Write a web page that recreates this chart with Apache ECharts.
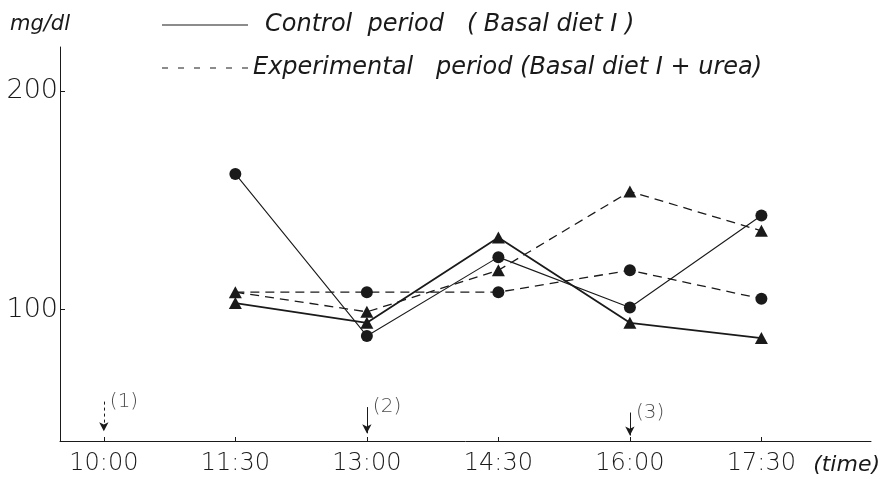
<!DOCTYPE html>
<html>
<head>
<meta charset="utf-8">
<script src="https://cdn.jsdelivr.net/npm/echarts@6/dist/echarts.min.js"></script>
<style>
html,body{margin:0;padding:0;background:#fff;}
#chart{width:888px;height:479px;}
</style>
</head>
<body>
<div id="chart"></div>
<script>
// ---- data ----
const timeLabels = ['10:00', '11:30', '13:00', '14:30', '16:00', '17:30'];
const timeHours = [10, 11.5, 13, 14.5, 16, 17.5];
const yTickValues = [100, 200];

const controlCircle   = [null, 162, 88, 124, 101, 143];
const controlTriangle = [null, 103, 94, 133, 94, 87];
const expCircle       = [null, 108, 108, 108, 118, 105];
const expTriangle     = [null, 108, 99, 118, 154, 136];

const legendNames = ['Control  period   ( Basal diet I )', 'Experimental   period (Basal diet I + urea)'];

const arrowTimes  = [10, 13, 16];
const arrowTop    = [58, 55.5, 53];
const arrowTip    = [44.5, 43.5, 42.5];
const arrowLabels = ['(1)', '(2)', '(3)'];
const arrowDashed = [true, false, false];

// ---- build ----
function pairs(arr) {
  const out = [];
  arr.forEach((v, i) => { if (v != null) out.push([timeHours[i], v]); });
  return out;
}
const plain = "'DejaVu Sans', sans-serif";
const ink = '#1a1a1a';
const solidIcon = 'path://M0,0H86V1H0Z';
const dashedIcon = 'path://M0,0H6V1H0Z M16,0H22V1H16Z M32,0H38V1H32Z M48,0H54V1H48Z M64,0H70V1H64Z M80,0H86V1H80Z';

const chart = echarts.init(document.getElementById('chart'));

const expCircleData = pairs(expCircle).map((p, i) =>
  i === 0 ? { value: p, symbol: 'none' } : p);

chart.setOption({
  backgroundColor: '#fff',
  animation: false,
  grid: { left: 60, right: 17, top: 47, bottom: 38 },
  legend: {
    orient: 'vertical',
    left: 157,
    top: 8,
    itemWidth: 86,
    itemHeight: 1,
    itemGap: 19,
    data: [
      { name: legendNames[0], icon: solidIcon, textStyle: { padding: [0, 0, 0, 12] } },
      { name: legendNames[1], icon: dashedIcon, textStyle: { padding: [0, 0, 0, 0] } }
    ],
    itemStyle: { color: ink },
    textStyle: {
      color: ink, fontSize: 24, fontStyle: 'italic',
      fontFamily: plain, fontWeight: 200
    }
  },
  xAxis: {
    type: 'value',
    min: 9.5,
    max: 18.75,
    splitLine: { show: false },
    axisLine: { lineStyle: { color: ink, width: 1 } },
    axisTick: { inside: true, length: 4, customValues: timeHours, lineStyle: { color: ink } },
    axisLabel: {
      customValues: timeHours,
      margin: 11,
      color: ink,
      fontSize: 24,
      fontFamily: plain,
      fontWeight: 200,
      formatter: v => {
        const i = timeHours.indexOf(v);
        return i >= 0 ? timeLabels[i] : '';
      }
    },
    name: '(time)',
    nameLocation: 'end',
    nameGap: 9,
    nameTextStyle: {
      color: ink, fontSize: 22, fontStyle: 'italic',
      fontFamily: plain, fontWeight: 200,
      align: 'right', verticalAlign: 'top', padding: [13, 0, 0, 0]
    }
  },
  yAxis: {
    type: 'value',
    min: 40,
    max: 220,
    splitLine: { show: false },
    axisLine: { show: true, lineStyle: { color: ink, width: 1 } },
    axisTick: { show: true, inside: true, length: 5, customValues: yTickValues, lineStyle: { color: ink } },
    axisLabel: {
      customValues: yTickValues,
      margin: 2,
      color: ink,
      fontSize: 27,
      fontFamily: plain,
      fontWeight: 200
    },
    name: 'mg/dl',
    nameLocation: 'end',
    nameGap: 12,
    nameTextStyle: {
      color: ink, fontSize: 21, fontStyle: 'italic',
      fontFamily: plain, fontWeight: 200,
      align: 'center', padding: [0, 40, 0, 0]
    }
  },
  series: [
    { name: legendNames[0], type: 'line', data: [], symbol: 'none',
      lineStyle: { color: ink, width: 1, type: 'solid' }, itemStyle: { color: ink } },
    { name: legendNames[1], type: 'line', data: [], symbol: 'none',
      lineStyle: { color: ink, width: 1, type: [5, 5] }, itemStyle: { color: ink } },
    { name: 'exp-circle', type: 'line', data: expCircleData,
      symbol: 'circle', symbolSize: 12, z: 3,
      lineStyle: { color: ink, width: 1.3, type: [9, 6] }, itemStyle: { color: ink } },
    { name: 'exp-triangle', type: 'line', data: pairs(expTriangle),
      symbol: 'triangle', symbolSize: [13, 12], z: 4,
      lineStyle: { color: ink, width: 1.3, type: [9, 6] }, itemStyle: { color: ink } },
    { name: 'control-circle', type: 'line', data: pairs(controlCircle),
      symbol: 'circle', symbolSize: 12, z: 3,
      lineStyle: { color: ink, width: 1.1, type: 'solid' }, itemStyle: { color: ink } },
    { name: 'control-triangle', type: 'line', data: pairs(controlTriangle),
      symbol: 'triangle', symbolSize: [13, 12], z: 4,
      lineStyle: { color: ink, width: 1.8, type: 'solid' }, itemStyle: { color: ink } },
    { name: 'arrows', type: 'scatter', symbolSize: 0, z: 2,
      data: arrowTimes.map((t, i) => ({ value: [t, arrowTop[i]], name: arrowLabels[i] })),
      label: {
        show: true, position: 'right', distance: 6,
        formatter: p => p.name,
        color: ink, fontSize: 20, fontFamily: plain, fontWeight: 200
      },
      markLine: {
        silent: true,
        symbol: ['none', 'arrow'],
        symbolSize: [7, 9],
        label: { show: false },
        data: arrowTimes.map((t, i) => [
          { coord: [t, arrowTop[i]], lineStyle: { color: ink, width: 1, type: arrowDashed[i] ? [3, 3] : 'solid' } },
          { coord: [t, arrowTip[i]] }
        ])
      }
    }
  ]
});
</script>
</body>
</html>
